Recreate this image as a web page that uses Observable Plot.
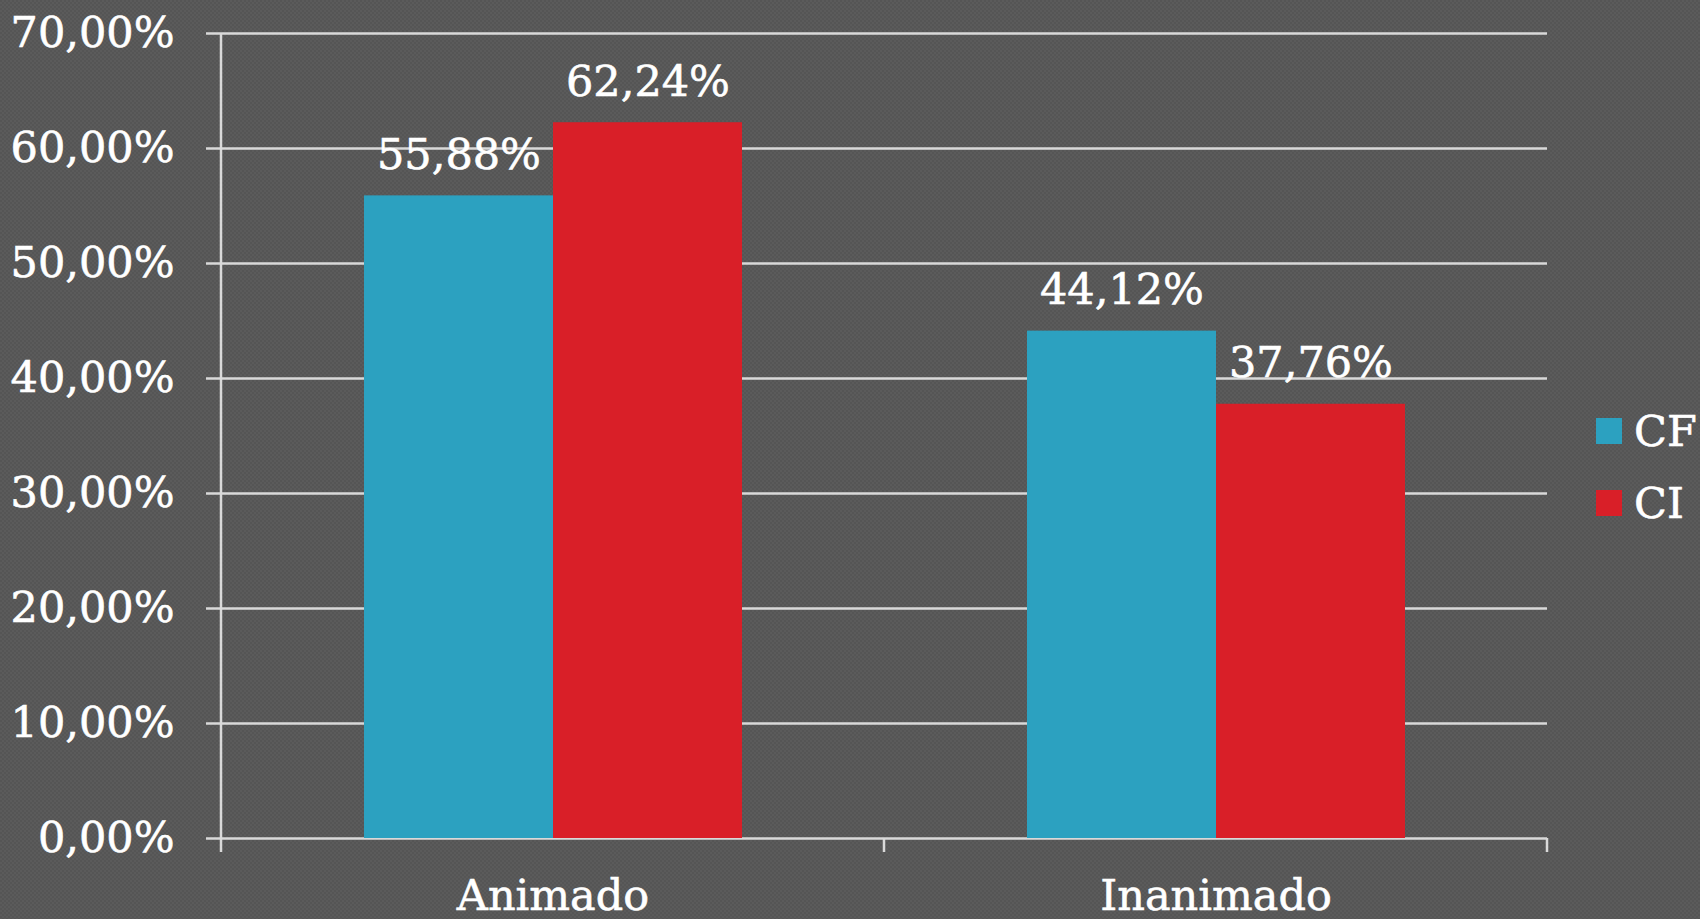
<!DOCTYPE html>
<html>
<head>
<meta charset="utf-8">
<script src="https://cdn.jsdelivr.net/npm/d3@7"></script>
<script src="https://cdn.jsdelivr.net/npm/@observablehq/plot@0.6"></script>
<style>
  html, body { margin: 0; padding: 0; }
  body {
    width: 1700px; height: 919px; overflow: hidden;
    background-color: #585858;
    background-image: repeating-conic-gradient(#5b5b5b 0 25%, #555555 0 50%);
    background-size: 4px 4px;
    font-family: "DejaVu Serif", serif;
  }
  #wrap { display: flex; align-items: flex-start; }
  #legend { padding-top: 418px; margin-left: 6px; }
  .sw { display: flex; align-items: center; height: 26px; margin-bottom: 46px; color: #fff; font-size: 43px; white-space: nowrap; -webkit-text-stroke: 0.6px #fff; }
  .sw span.box { width: 26px; height: 26px; display: inline-block; margin-right: 12px; }
  svg text { stroke: #fff; stroke-width: 0.6px; }
</style>
</head>
<body>
<div id="wrap"><div id="chart"></div><div id="legend"></div></div>
<script>
const categories = ["Animado", "Inanimado"];
const seriesNames = ["CF", "CI"];
const seriesColors = ["#2ca1c0", "#d91f28"];
const valuesCF = [55.88, 44.12];
const valuesCI = [62.24, 37.76];
const yTicks = [0, 10, 20, 30, 40, 50, 60, 70];

const data = [];
categories.forEach((c, i) => {
  data.push({cat: c, series: "CF", value: valuesCF[i]});
  data.push({cat: c, series: "CI", value: valuesCI[i]});
});
const fmt = v => v.toFixed(2).replace(".", ",") + "%";
const gridColor = "#d9d9d9";

const plot = Plot.plot({
  width: 1590,
  height: 919,
  marginLeft: 220,
  marginRight: 43,
  marginTop: 33,
  marginBottom: 81,
  style: {background: "transparent", color: "#fff", fontFamily: "DejaVu Serif, serif", fontSize: "43px", overflow: "visible"},
  fx: {domain: categories, padding: 0, label: null, tickSize: 0, tickPadding: 41},
  x: {domain: seriesNames, paddingInner: 0, paddingOuter: 0.746, axis: null},
  y: {domain: [0, 70], ticks: yTicks, tickFormat: fmt, tickSize: 15, tickPadding: 32, label: null},
  color: {domain: seriesNames, range: seriesColors},
  marks: [
    Plot.ruleY(yTicks, {stroke: gridColor, strokeWidth: 2.5}),
    Plot.barY(data, {fx: "cat", x: "series", y: "value", fill: "series"}),
    Plot.text(data, {fx: "cat", x: "series", y: "value", text: d => fmt(d.value), fill: "#fff", lineAnchor: "bottom", dy: -27, fontSize: 43})
  ]
});
document.getElementById("chart").appendChild(plot);

// axis line and category boundary ticks derived from Plot's scales
const fx = plot.scale("fx"), ys = plot.scale("y");
const svg = d3.select(plot);
const y0 = ys.apply(0), yTop = ys.apply(70);
const x0 = fx.apply(categories[0]);
const g = svg.append("g").attr("stroke", gridColor).attr("stroke-width", 2.5);
g.append("line").attr("x1", x0).attr("x2", x0).attr("y1", yTop).attr("y2", y0 + 14);
const bounds = categories.map(c => fx.apply(c)).concat([fx.apply(categories[categories.length - 1]) + fx.bandwidth]);
bounds.slice(1).forEach(b => g.append("line").attr("x1", b).attr("x2", b).attr("y1", y0).attr("y2", y0 + 14));
svg.selectAll("[aria-label='y-axis tick'] path, [aria-label='y-axis tick']").attr("stroke", gridColor).attr("stroke-width", 2.5);

// legend
const lg = d3.select("#legend");
seriesNames.forEach((s, i) => {
  const row = lg.append("div").attr("class", "sw");
  row.append("span").attr("class", "box").style("background", seriesColors[i]);
  row.append("span").text(s);
});
</script>
</body>
</html>
